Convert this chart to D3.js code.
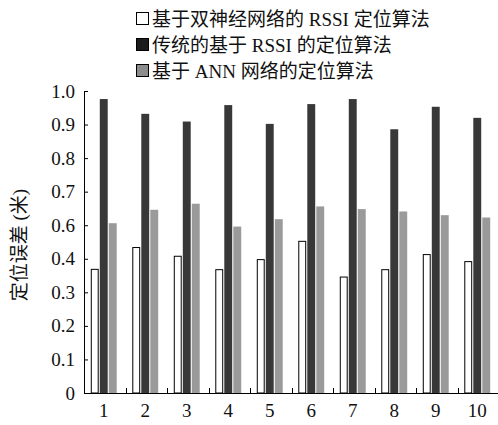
<!DOCTYPE html>
<html><head><meta charset="utf-8">
<script src="https://cdn.jsdelivr.net/npm/d3@7"></script>
</head>
<body style="margin:0;padding:0;background:#fff"><svg id="chart" width="498" height="425"></svg>
<script>
const categories = ["1","2","3","4","5","6","7","8","9","10"];
const seriesNames = ["基于双神经网络的 RSSI 定位算法","传统的基于 RSSI 的定位算法","基于 ANN 网络的定位算法"];
const dualNN = [0.370,0.470,0.418,0.369,0.399,0.507,0.347,0.369,0.428,0.393];
const rssi   = [0.976,0.932,0.909,0.958,0.902,0.961,0.976,0.886,0.953,0.920];
const ann    = [0.606,0.646,0.664,0.592,0.618,0.656,0.648,0.641,0.630,0.623];
const yTickValues = [0,0.1,0.2,0.3,0.4,0.6,0.7,0.8,0.9,1.0];
const yTickLabels = ["0","0.1","0.2","0.3","0.4","0.6","0.7","0.8","0.9","1.0"];
const yTitle = "定位误差 (米)";

const FONT = "Liberation Serif, Noto Sans CJK SC, serif";
const series = [dualNN, rssi, ann];
const fills = ["#ffffff","#383838","#9a9a9a"];
const legendFills = ["#ffffff","#1c1c1c","#8c8c8c"];

const svg = d3.select("#chart").attr("font-family", FONT);
const mLeft = 84, mRight = 499, mTop = 91, mBottom = 393;

const x0 = d3.scaleBand().domain(categories).range([mLeft, mRight]).paddingInner(0.375).paddingOuter(0.1875);
const x1 = d3.scaleBand().domain([0,1,2]).range([0, x0.bandwidth()]).paddingInner(0.12);
const y = d3.scaleLinear().domain(yTickValues)
  .range(yTickValues.map((d,i)=> mBottom - i*(mBottom-mTop)/(yTickValues.length-1)));

// bars
const g = svg.append("g");
categories.forEach((c,i)=>{
  series.forEach((s,k)=>{
    g.append("rect")
      .attr("x", x0(c)+x1(k) - 1 + (k===0?0.5:0))
      .attr("y", y(s[i]) + (k===0?0.5:0))
      .attr("width", x1.bandwidth() - (k===0?1:0))
      .attr("height", mBottom - y(s[i]) - (k===0?0.5:0))
      .attr("fill", fills[k])
      .attr("stroke", k===0 ? "#000" : "none")
      .attr("stroke-width", 1);
  });
});

// y axis
const yAxis = d3.axisRight(y).tickValues(yTickValues).tickSize(4)
  .tickFormat((d,i)=>yTickLabels[i]);
const ya = svg.append("g").attr("transform",`translate(${mLeft},0)`).call(yAxis);
ya.attr("font-family", FONT).attr("font-size",19);
ya.select(".domain").attr("d",`M0.5,${mTop}V${mBottom}`).attr("stroke","#000");
ya.selectAll(".tick line").attr("stroke","#000");
ya.selectAll(".tick text").attr("x",-9).attr("text-anchor","end")
  .attr("font-family", FONT).attr("font-size",19).attr("fill","#111");

// x axis
const xa = svg.append("g").attr("transform",`translate(0,${mBottom})`);
xa.append("line").attr("x1",mLeft).attr("x2",mRight).attr("y1",0.5).attr("y2",0.5).attr("stroke","#000");
categories.slice(1).forEach((c)=>{
  const xx = Math.round(x0(c) - x0.step()*0.1875)+0.5;
  xa.append("line").attr("x1",xx).attr("x2",xx).attr("y1",0).attr("y2",-5).attr("stroke","#000");
});
xa.selectAll("text.cat").data(categories).enter().append("text")
  .attr("class","cat")
  .attr("x", d=>x0(d)+x0.bandwidth()/2 - 1)
  .attr("y", 24)
  .attr("text-anchor","middle")
  .attr("font-family", FONT)
  .attr("font-size",19)
  .attr("fill","#111")
  .text(d=>d);

// y title
svg.append("text")
  .attr("transform","translate(26,245) rotate(-90)")
  .attr("text-anchor","middle")
  .attr("font-family", FONT)
  .attr("font-size",19)
  .attr("fill","#111")
  .text(yTitle);

// legend
const lg = svg.append("g");
seriesNames.forEach((n,k)=>{
  const cy = 19 + k*26;
  lg.append("rect").attr("x",136.5).attr("y",cy-6.5).attr("width",12).attr("height",12)
    .attr("fill",legendFills[k]).attr("stroke","#000").attr("stroke-width",1);
  lg.append("text").attr("x",152).attr("y",cy).attr("dy","0.35em")
    .attr("font-family", FONT)
    .attr("font-size",19).attr("fill","#111").text(n);
});
</script></body></html>
